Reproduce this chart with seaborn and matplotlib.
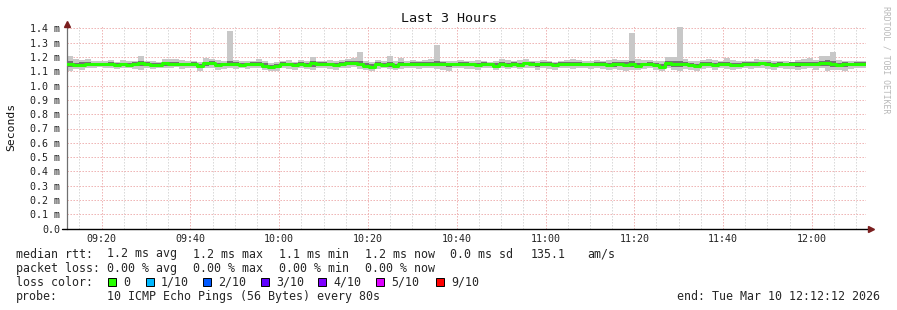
import numpy as np
import pandas as pd
import matplotlib
matplotlib.use("Agg")
import matplotlib.pyplot as plt
from matplotlib.patches import Rectangle
import seaborn as sns

# ---------------- data ----------------
start_time = "09:12:12"
step_seconds = 80
title = "Last 3 Hours"

med = [1.153,1.145,1.142,1.150,1.152,1.152,1.151,1.150,1.145,1.148,1.147,1.150,1.156,1.148,1.142,
       1.146,1.155,1.154,1.153,1.152,1.150,1.148,1.140,1.155,1.158,1.145,1.148,1.152,1.150,1.145,
       1.148,1.152,1.150,1.140,1.128,1.136,1.150,1.148,1.142,1.150,1.147,1.156,1.150,1.152,1.148,
       1.143,1.150,1.158,1.160,1.150,1.140,1.132,1.150,1.147,1.148,1.140,1.150,1.148,1.152,1.150,
       1.152,1.150,1.153,1.150,1.148,1.150,1.152,1.150,1.148,1.145,1.148,1.150,1.140,1.152,1.145,
       1.150,1.147,1.155,1.150,1.148,1.152,1.150,1.145,1.150,1.148,1.150,1.152,1.150,1.148,1.150,
       1.150,1.142,1.148,1.150,1.145,1.150,1.140,1.148,1.152,1.145,1.130,1.155,1.150,1.148,1.152,
       1.142,1.135,1.150,1.148,1.145,1.150,1.152,1.145,1.147,1.150,1.150,1.152,1.155,1.150,1.145,
       1.150,1.148,1.152,1.150,1.148,1.150,1.152,1.155,1.155,1.150,1.145,1.150,1.148,1.150,1.150]

hi = [1.205,1.185,1.180,1.188,1.175,1.170,1.172,1.178,1.165,1.180,1.170,1.172,1.207,1.175,1.170,
      1.168,1.188,1.188,1.185,1.180,1.172,1.175,1.165,1.190,1.185,1.178,1.172,1.380,1.178,1.175,
      1.172,1.170,1.185,1.170,1.160,1.168,1.175,1.178,1.165,1.182,1.175,1.200,1.175,1.172,1.178,
      1.170,1.180,1.185,1.195,1.235,1.170,1.165,1.180,1.175,1.205,1.175,1.190,1.170,1.178,1.172,
      1.180,1.185,1.285,1.175,1.172,1.170,1.178,1.170,1.175,1.182,1.172,1.168,1.170,1.185,1.178,
      1.172,1.180,1.185,1.175,1.170,1.178,1.172,1.168,1.175,1.178,1.185,1.180,1.170,1.172,1.178,
      1.175,1.178,1.185,1.180,1.182,1.370,1.185,1.178,1.182,1.175,1.170,1.200,1.200,1.410,1.185,
      1.175,1.170,1.180,1.185,1.178,1.172,1.190,1.182,1.175,1.170,1.175,1.185,1.180,1.178,1.175,
      1.172,1.175,1.168,1.178,1.185,1.190,1.180,1.205,1.210,1.235,1.178,1.175,1.172,1.170,1.175]

lo = [1.105,1.118,1.110,1.120,1.125,1.128,1.125,1.122,1.115,1.120,1.125,1.118,1.112,1.120,1.115,
      1.120,1.125,1.125,1.128,1.118,1.122,1.120,1.105,1.125,1.122,1.110,1.118,1.125,1.115,1.120,
      1.118,1.125,1.120,1.112,1.100,1.102,1.120,1.118,1.110,1.122,1.115,1.108,1.125,1.122,1.118,
      1.112,1.120,1.125,1.128,1.115,1.110,1.100,1.118,1.120,1.115,1.108,1.115,1.120,1.122,1.118,
      1.125,1.120,1.118,1.110,1.102,1.120,1.125,1.118,1.115,1.112,1.120,1.125,1.108,1.120,1.118,
      1.122,1.118,1.125,1.120,1.108,1.120,1.118,1.110,1.122,1.120,1.118,1.125,1.120,1.115,1.122,
      1.118,1.110,1.115,1.112,1.105,1.110,1.108,1.118,1.122,1.110,1.102,1.120,1.110,1.105,1.118,
      1.108,1.105,1.118,1.120,1.112,1.120,1.118,1.110,1.115,1.122,1.118,1.120,1.125,1.118,1.112,
      1.120,1.115,1.118,1.108,1.118,1.120,1.112,1.120,1.105,1.108,1.112,1.105,1.118,1.120,1.122]

q3 = [1.170,1.160,1.165,1.162,1.160,1.160,1.158,1.162,1.158,1.160,1.158,1.165,1.170,1.162,1.155,
      1.160,1.165,1.166,1.168,1.160,1.160,1.162,1.152,1.168,1.170,1.160,1.160,1.170,1.162,1.160,
      1.160,1.162,1.165,1.155,1.145,1.150,1.162,1.160,1.155,1.162,1.160,1.172,1.162,1.165,1.160,
      1.155,1.162,1.170,1.175,1.175,1.155,1.148,1.162,1.160,1.168,1.152,1.165,1.160,1.165,1.162,
      1.165,1.165,1.175,1.162,1.160,1.160,1.165,1.162,1.160,1.160,1.162,1.160,1.155,1.168,1.160,
      1.162,1.160,1.168,1.162,1.160,1.165,1.162,1.158,1.162,1.162,1.165,1.165,1.160,1.160,1.162,
      1.162,1.158,1.165,1.162,1.165,1.175,1.160,1.160,1.165,1.158,1.150,1.172,1.170,1.175,1.165,
      1.158,1.150,1.162,1.165,1.160,1.162,1.168,1.160,1.160,1.162,1.162,1.168,1.168,1.162,1.160,
      1.162,1.160,1.162,1.165,1.162,1.165,1.165,1.172,1.178,1.172,1.160,1.162,1.160,1.162,1.162]

q1 = [1.132,1.132,1.128,1.138,1.140,1.142,1.140,1.138,1.132,1.135,1.136,1.135,1.135,1.136,1.130,
      1.135,1.140,1.140,1.142,1.138,1.138,1.136,1.125,1.140,1.142,1.130,1.135,1.138,1.135,1.134,
      1.135,1.140,1.136,1.128,1.115,1.122,1.138,1.135,1.128,1.138,1.134,1.130,1.140,1.140,1.135,
      1.130,1.138,1.142,1.145,1.135,1.128,1.118,1.136,1.136,1.132,1.126,1.134,1.136,1.138,1.136,
      1.140,1.136,1.135,1.136,1.130,1.138,1.140,1.136,1.134,1.130,1.136,1.138,1.126,1.138,1.134,
      1.138,1.134,1.142,1.138,1.132,1.140,1.136,1.130,1.138,1.136,1.136,1.140,1.138,1.134,1.138,
      1.136,1.128,1.132,1.134,1.128,1.130,1.125,1.134,1.138,1.128,1.118,1.140,1.132,1.128,1.138,
      1.128,1.120,1.136,1.136,1.130,1.138,1.138,1.130,1.134,1.138,1.136,1.138,1.142,1.136,1.130,
      1.138,1.134,1.138,1.132,1.135,1.136,1.136,1.138,1.135,1.132,1.130,1.132,1.134,1.136,1.138]

y_ticks = [0.0, 0.1, 0.2, 0.3, 0.4, 0.5, 0.6, 0.7, 0.8, 0.9, 1.0, 1.1, 1.2, 1.3, 1.4]
y_tick_labels = ["0.0", "0.1 m", "0.2 m", "0.3 m", "0.4 m", "0.5 m", "0.6 m", "0.7 m",
                 "0.8 m", "0.9 m", "1.0 m", "1.1 m", "1.2 m", "1.3 m", "1.4 m"]
x_tick_labels = ["09:20", "09:40", "10:00", "10:20", "10:40", "11:00", "11:20", "11:40", "12:00"]

rtt_fields = ["1.2 ms avg", "1.2 ms max", "1.1 ms min", "1.2 ms now", "0.0 ms sd", "135.1", "am/s"]
loss_fields = ["0.00 % avg", "0.00 % max", "0.00 % min", "0.00 % now"]
loss_labels = ["0", "1/10", "2/10", "3/10", "4/10", "5/10", "9/10"]
loss_colors = ["#26ff00", "#00b8ff", "#0059ff", "#5e00ff", "#7e00ff", "#dd00ff", "#ff0000"]
probe_text = "10 ICMP Echo Pings (56 Bytes) every 80s"
end_text = "end: Tue Mar 10 12:12:12 2026"

# ---------------- figure ----------------
sns.set_theme(style="white")
plt.rcParams["font.family"] = ["DejaVu Sans Mono", "DejaVu Sans"]

W, H = 897, 310
fig = plt.figure(figsize=(W / 100, H / 100), dpi=100)
fig.patch.set_facecolor("white")
L, R, T, B = 67, 866, 26, 228.6
PX_PER_MS = 143.0
ax = fig.add_axes([L / W, 1 - B / H, (R - L) / W, (B - T) / H])
ax.set_facecolor("white")

h, m, s = [int(v) for v in start_time.split(":")]
t0 = h * 60 + m + s / 60.0
step = step_seconds / 60.0
n = len(med)
edges = t0 + step * np.arange(n + 1)
ax.set_xlim(edges[0], edges[-1])
ax.set_ylim(0, (B - T) / PX_PER_MS)

def hm_to_min(lbl):
    hh, mm = lbl.split(":")
    return int(hh) * 60 + int(mm)

major_x = [hm_to_min(l) for l in x_tick_labels]
minor_x = [v for v in np.arange(np.ceil(edges[0] / 5) * 5, edges[-1], 5) if v not in major_x]

grid_red = "#eeb0b0"
grid_gray = "#d6d6d6"
dots = (0, (1.4, 1.6))
for v in minor_x:
    ax.axvline(v, color=grid_gray, lw=0.72, ls=dots, zorder=0)
for v in major_x:
    ax.axvline(v, color=grid_red, lw=0.72, ls=dots, zorder=0)
for v in y_ticks[1:]:
    ax.axhline(v, color=grid_red, lw=0.72, ls=dots, zorder=0)

# smoke
ax.stairs(hi, edges, baseline=lo, fill=True, color="#c8c8c8", lw=0, zorder=2)
ax.stairs(q3, edges, baseline=q1, fill=True, color="#747474", lw=0, zorder=3)

# median line coloured by loss (all 0 loss -> green)
df = pd.DataFrame({"t": edges, "rtt": list(med) + [med[-1]]})
sns.lineplot(data=df, x="t", y="rtt", drawstyle="steps-post", color=loss_colors[0],
             lw=2.2, ax=ax, zorder=4)

ax.set_xlabel("")
ax.set_ylabel("")
ax.set_xticks(major_x)
ax.set_xticklabels(x_tick_labels)
ax.set_yticks(y_ticks)
ax.set_yticklabels(y_tick_labels)
ax.tick_params(axis="both", length=0, labelsize=7.2, colors="#000000")
ax.tick_params(axis="y", pad=5.0)
ax.tick_params(axis="x", pad=3.6)
for lab in ax.get_yticklabels() + ax.get_xticklabels():
    lab.set_color("#222222")

for sp in ["top", "right", "bottom"]:
    ax.spines[sp].set_visible(False)
ax.spines["left"].set_color("#707070")
ax.spines["left"].set_linewidth(0.9)

# x axis line & arrows
ax.plot([-5 / (R - L), 1 + 3 / (R - L)], [0, 0], transform=ax.transAxes, color="black",
        lw=1.0, clip_on=False, zorder=6)
ax.plot([0], [1 + 2 / (B - T)], transform=ax.transAxes, marker="^", ms=5, color="#7a1e1e",
        clip_on=False, zorder=7)
ax.plot([1 + 5 / (R - L)], [0], transform=ax.transAxes, marker=">", ms=5, color="#7a1e1e",
        clip_on=False, zorder=7)

def ftext(x, y, txt, **kw):
    fig.text(x / W, 1 - y / H, txt, **kw)

ftext(W / 2, 19, title, ha="center", va="center", fontsize=9.6, color="#111111")
ftext(11, 127, "Seconds", ha="center", va="center", rotation=90, fontsize=8.2, color="#111111")
ftext(886, 6, "RRDTOOL / TOBI OETIKER", ha="center", va="top", rotation=270,
      fontsize=5.9, color="#b8b8b8")

fs = 8.35
row_y = [254, 268.3, 282.3, 296.3]
ftext(16, row_y[0], "median rtt:", ha="left", va="center", fontsize=fs)
for x, t in zip([107, 193, 279, 365, 450, 531, 587], rtt_fields):
    ftext(x, row_y[0], t, ha="left", va="center", fontsize=fs)
ftext(16, row_y[1], "packet loss:", ha="left", va="center", fontsize=fs)
for x, t in zip([107, 193, 279, 365], loss_fields):
    ftext(x, row_y[1], t, ha="left", va="center", fontsize=fs)
ftext(16, row_y[2], "loss color:", ha="left", va="center", fontsize=fs)
sq_x = [108, 146, 203, 261, 318, 376, 436]
for x, lbl, c in zip(sq_x, loss_labels, loss_colors):
    fig.patches.append(Rectangle((x / W, 1 - (row_y[2] + 4) / H), 8 / W, 8 / H,
                                 transform=fig.transFigure, facecolor=c,
                                 edgecolor="black", lw=0.7))
    ftext(x + 15, row_y[2], lbl, ha="left", va="center", fontsize=fs)
ftext(16, row_y[3], "probe:", ha="left", va="center", fontsize=fs)
ftext(107, row_y[3], probe_text, ha="left", va="center", fontsize=fs)
ftext(880, row_y[3], end_text, ha="right", va="center", fontsize=fs)

fig.savefig("out.png", dpi=100, facecolor="white")
